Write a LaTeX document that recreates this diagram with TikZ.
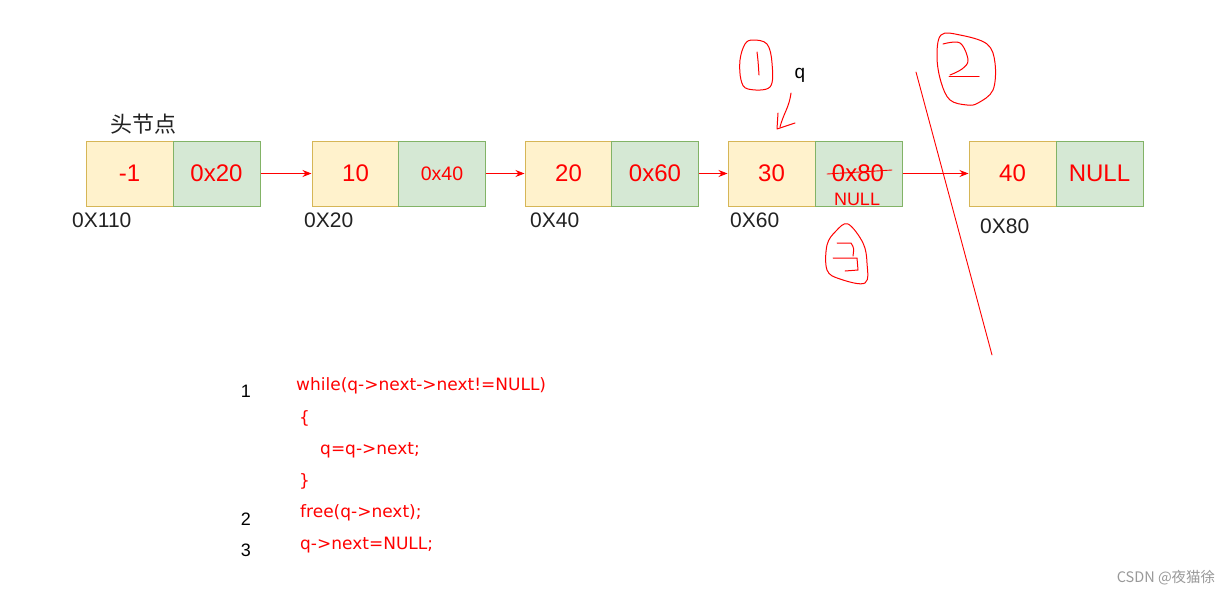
\documentclass[tikz,border=0pt]{standalone}
\usepackage{fontspec}
\setmainfont{Liberation Sans}
\newfontfamily\cjk{Noto Sans CJK SC}
\newfontfamily\codefont{DejaVu Sans}
\usetikzlibrary{arrows.meta}
\definecolor{yfill}{HTML}{FFF2CC}
\definecolor{ydraw}{HTML}{D6B656}
\definecolor{gfill}{HTML}{D5E8D4}
\definecolor{gdraw}{HTML}{82B366}
\definecolor{tred}{HTML}{FF0000}
\definecolor{tgray}{HTML}{222222}
\definecolor{wgray}{HTML}{999999}
\tikzset{
  cell/.style={minimum width=87pt, minimum height=65pt, inner sep=0pt, line width=1pt, text=tred, font=\fontsize{24}{26}\selectfont},
  ybox/.style={cell, fill=yfill, draw=ydraw},
  gbox/.style={cell, fill=gfill, draw=gdraw},
  addr/.style={text=tgray, font=\fontsize{21}{23}\selectfont, inner sep=0pt},
  arr/.style={draw=tred, line width=0.9pt, -{Stealth[length=9pt,width=7pt]}},
  hand/.style={draw=tred, line width=1pt, line join=round, line cap=round},
  code/.style={text=tred, font=\codefont\fontsize{17}{19}\selectfont, inner sep=0pt, anchor=west},
  num/.style={text=black, font=\fontsize{18}{20}\selectfont, inner sep=0pt},
}
\begin{document}
\begin{tikzpicture}[x=1pt,y=-1pt]
\useasboundingbox (0,0) rectangle (1230,595);
\fill[white] (0,0) rectangle (1230,595);
% nodes
\node[ybox] (y1) at (129.5,173.5) {-1};
\node[gbox] (g1) at (216.5,173.5) {0x20};
\node[ybox] (y2) at (355.5,173.5) {10};
\node[gbox,font=\fontsize{19.5}{21}\selectfont] (g2) at (442,173.5) {\raisebox{-3pt}{0x40}};
\node[ybox] (y3) at (568.5,173.5) {20};
\node[gbox] (g3) at (655,173.5) {0x60};
\node[ybox] (y4) at (771.5,173.5) {30};
\node[gbox] (g4) at (858.5,173.5) {};
\node[ybox] (y5) at (1012.5,173.5) {40};
\node[gbox] (g5) at (1099.5,173.5) {NULL};
% contents of g4
\node[text=tred, font=\fontsize{24}{26}\selectfont, inner sep=0pt] (x80) at (858,173) {0x80};
\node[text=tred, font=\fontsize{18}{20}\selectfont, inner sep=0pt] (null4) at (857,199) {NULL};
\draw[hand, line width=0.9pt] (827,174) -- (892,170);
% arrows
\draw[arr] (g1.east) -- (y2.west);
\draw[arr] (g2.east) -- (y3.west);
\draw[arr] (g3.east) -- (y4.west);
\draw[arr] (g4.east) -- (y5.west);
% labels
\node[text=tgray, font=\cjk\fontsize{22}{24}\selectfont, inner sep=0pt] (head) at (143,124) {头节点};
\node[addr, anchor=west] (a1) at (72,220) {0X110};
\node[addr, anchor=west] (a2) at (304,220) {0X20};
\node[addr, anchor=west] (a3) at (530,220) {0X40};
\node[addr, anchor=west] (a4) at (730,220) {0X60};
\node[addr, anchor=west] (a5) at (980,226) {0X80};
\node[text=black, font=\fontsize{19}{21}\selectfont, inner sep=0pt] (q) at (800,75) {q};
% handwritten circle 1
\draw[hand] plot[smooth cycle, tension=0.6] coordinates {(753,40) (767,44) (772,63) (770,87) (748,89) (741,80) (740,60) (745,44)};
\draw[hand] (757,52) .. controls (758,60) .. (759,75);
% q arrow
\draw[hand] (791,93) .. controls (789,108) and (784,112) .. (780,127);
\draw[hand] (778,113) -- (777,129) -- (795,123);
% circle 2
\draw[hand] plot[smooth cycle, tension=0.6] coordinates {(941,35) (960,35) (987,44) (995,63) (993,90) (978,103) (967,105) (950,100) (941,82) (937,57)};
\draw[hand] plot[smooth, tension=0.6] coordinates {(943,44) (960,43) (968,60) (962,69) (950,75)};
\draw[hand] (949,76) -- (979,76);
% long line
\draw[hand, line width=0.9pt] (916,72) -- (992,355);
% circle 3
\draw[hand] plot[smooth cycle, tension=0.6] coordinates {(848,224) (863,243) (867,263) (865,283) (840,279) (827,270) (827,245) (836,231)};
\draw[hand] (837,243) -- (851,243) .. controls (854,248) .. (853,256);
\draw[hand] (833,258) -- (857,258) -- (858,270) -- (845,271);
% code
\node[num] (n1) at (246,391) {1};
\node[num] (n2) at (246,519) {2};
\node[num] (n3) at (246,550) {3};
\node[code] (c1) at (296,386) {while(q->next->next!=NULL)};
\node[code] (c2) at (299,418) {\{};
\node[code] (c3) at (320,450) {q=q->next;};
\node[code] (c4) at (299,481) {\}};
\node[code] (c5) at (300,513) {free(q->next);};
\node[code] (c6) at (300,545) {q->next=NULL;};
% watermark
\node[text=wgray, font=\cjk\fontsize{14.5}{16}\selectfont, inner sep=0pt] (wm) at (1166,578) {CSDN @夜猫徐};
\end{tikzpicture}
\end{document}
